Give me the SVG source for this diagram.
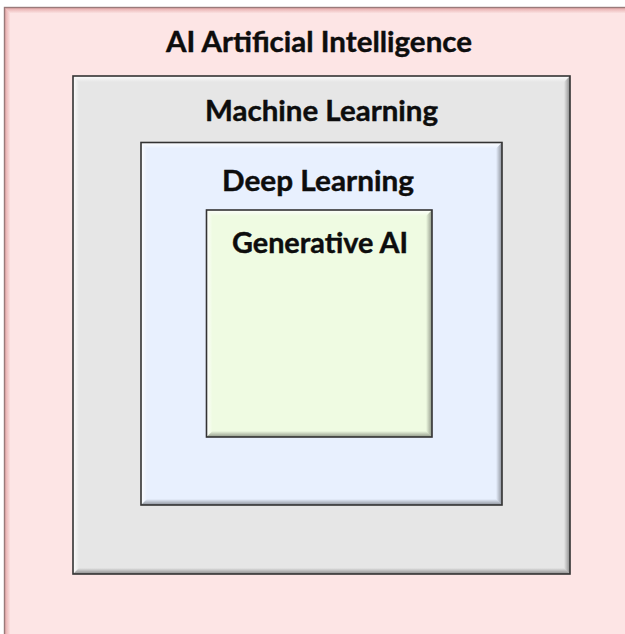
<svg xmlns="http://www.w3.org/2000/svg" width="625" height="634" viewBox="0 0 625 634">
  <style>
    .label { font-family: "Lato", "Open Sans", "Liberation Sans", sans-serif; font-weight: 700; font-size: 28px; fill: #0d0d0d; text-anchor: middle; stroke: #0d0d0d; stroke-width: 0.4px; }
    .edge { fill: none; stroke: #333333; stroke-width: 1.6; }
    .edge-outer { fill: none; stroke: #9a7a7a; stroke-width: 1.4; }
    .hi-top { fill: url(#bevelTop); }
    .hi-left { fill: url(#bevelLeft); }
    .sh-bottom { fill: url(#bevelBottom); }
    .sh-right { fill: url(#bevelRight); }
  </style>
  <defs>
    <!-- bevel light on top/left, shade on bottom/right -->
    <linearGradient id="bevelTop" x1="0" y1="0" x2="0" y2="1">
      <stop offset="0" stop-color="#ffffff" stop-opacity="0.9"/>
      <stop offset="1" stop-color="#ffffff" stop-opacity="0"/>
    </linearGradient>
    <linearGradient id="bevelLeft" x1="0" y1="0" x2="1" y2="0">
      <stop offset="0" stop-color="#ffffff" stop-opacity="0.9"/>
      <stop offset="1" stop-color="#ffffff" stop-opacity="0"/>
    </linearGradient>
    <linearGradient id="bevelBottom" x1="0" y1="0" x2="0" y2="1">
      <stop offset="0" stop-color="#000000" stop-opacity="0"/>
      <stop offset="1" stop-color="#000000" stop-opacity="0.4"/>
    </linearGradient>
    <linearGradient id="bevelRight" x1="0" y1="0" x2="1" y2="0">
      <stop offset="0" stop-color="#000000" stop-opacity="0"/>
      <stop offset="1" stop-color="#000000" stop-opacity="0.4"/>
    </linearGradient>
    <linearGradient id="outerTop" x1="0" y1="0" x2="0" y2="1">
      <stop offset="0" stop-color="#d98a8a" stop-opacity="0.7"/>
      <stop offset="1" stop-color="#d98a8a" stop-opacity="0"/>
    </linearGradient>
    <linearGradient id="outerLeft" x1="0" y1="0" x2="1" y2="0">
      <stop offset="0" stop-color="#d98a8a" stop-opacity="0.7"/>
      <stop offset="1" stop-color="#d98a8a" stop-opacity="0"/>
    </linearGradient>
  </defs>

  <rect x="0" y="0" width="625" height="634" fill="#ffffff"/>

  <!-- Artificial Intelligence -->
  <g id="ai">
    <rect x="4.5" y="7.5" width="640" height="640" fill="#fde5e5"/>
    <polygon points="4.5,7.5 644.5,7.5 640.5,13.5 10.5,13.5" fill="url(#outerTop)"/>
    <polygon points="4.5,7.5 10.5,13.5 10.5,647.5 4.5,647.5" fill="url(#outerLeft)"/>
    <rect x="4.5" y="7.5" width="640" height="640" class="edge-outer"/>
    <text class="label" x="319" y="52" textLength="306" lengthAdjust="spacingAndGlyphs">AI Artificial Intelligence</text>
  </g>

  <!-- Machine Learning -->
  <g id="ml">
    <rect x="73" y="76" width="497" height="498" fill="#e6e6e6"/>
    <polygon points="73,76 570,76 564,82 79,82" class="hi-top"/>
    <polygon points="73,76 79,82 79,568 73,574" class="hi-left"/>
    <polygon points="73,574 79,568 564,568 570,574" class="sh-bottom"/>
    <polygon points="570,76 570,574 564,568 564,82" class="sh-right"/>
    <rect x="73" y="76" width="497" height="498" class="edge"/>
    <text class="label" x="321.5" y="121" textLength="233" lengthAdjust="spacingAndGlyphs">Machine Learning</text>
  </g>

  <!-- Deep Learning -->
  <g id="dl">
    <rect x="141" y="142.5" width="361" height="362.5" fill="#e8f0fe"/>
    <polygon points="141,142.5 502,142.5 496,148.5 147,148.5" class="hi-top"/>
    <polygon points="141,142.5 147,148.5 147,499 141,505" class="hi-left"/>
    <polygon points="141,505 147,499 496,499 502,505" class="sh-bottom"/>
    <polygon points="502,142.5 502,505 496,499 496,148.5" class="sh-right"/>
    <rect x="141" y="142.5" width="361" height="362.5" class="edge"/>
    <text class="label" x="318" y="191" textLength="192" lengthAdjust="spacingAndGlyphs">Deep Learning</text>
  </g>

  <!-- Generative AI -->
  <g id="genai">
    <rect x="206.5" y="210" width="225.5" height="227" fill="#effbe2"/>
    <polygon points="206.5,210 432,210 426,216 212.5,216" class="hi-top"/>
    <polygon points="206.5,210 212.5,216 212.5,431 206.5,437" class="hi-left"/>
    <polygon points="206.5,437 212.5,431 426,431 432,437" class="sh-bottom"/>
    <polygon points="432,210 432,437 426,431 426,216" class="sh-right"/>
    <rect x="206.5" y="210" width="225.5" height="227" class="edge"/>
    <text class="label" x="320" y="253" textLength="176" lengthAdjust="spacingAndGlyphs">Generative AI</text>
  </g>

  <g id="connectors"/>
</svg>
